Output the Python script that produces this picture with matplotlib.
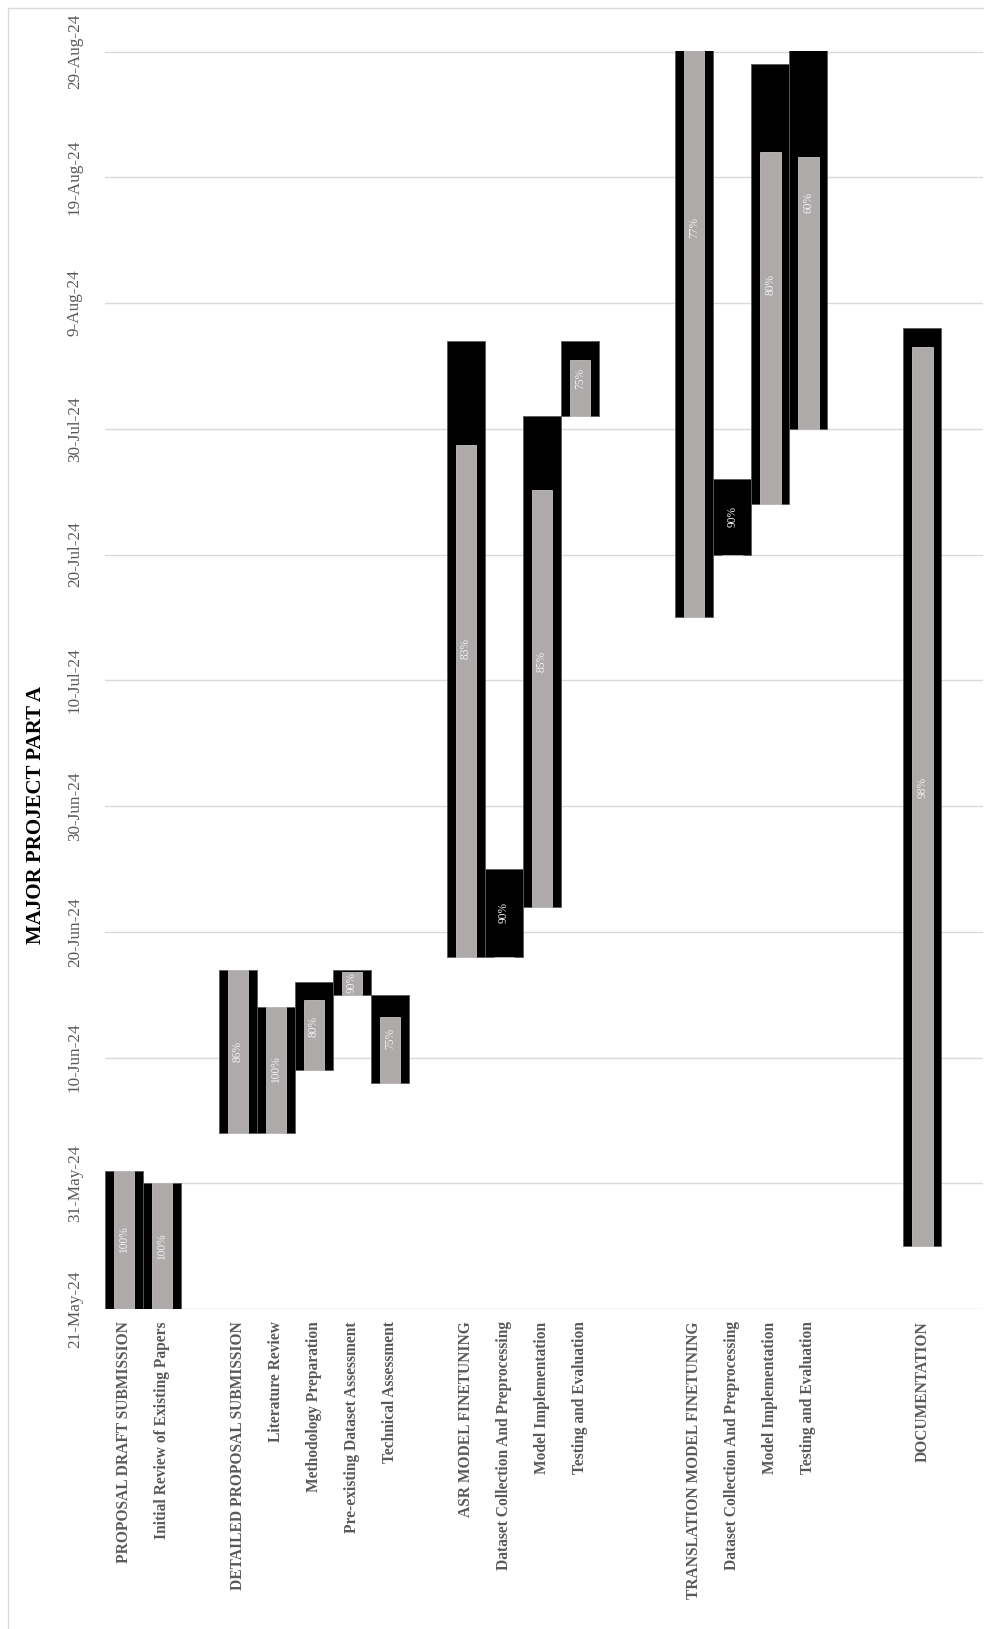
import matplotlib
matplotlib.use("Agg")
import matplotlib.pyplot as plt
import matplotlib.dates as mdates
from matplotlib.patches import Rectangle
import pandas as pd
import numpy as np

plt.rcParams["font.family"] = ["Liberation Serif", "DejaVu Serif"]

# One slot per row of the schedule; empty strings are spacer rows between phases
categories = [
    "PROPOSAL DRAFT SUBMISSION", "Initial Review of Existing Papers", "",
    "DETAILED PROPOSAL SUBMISSION", "Literature Review", "Methodology Preparation",
    "Pre-existing Dataset Assessment", "Technical Assessment", "",
    "ASR MODEL FINETUNING", "Dataset Collection And Preprocessing", "Model Implementation",
    "Testing and Evaluation", "", "",
    "TRANSLATION MODEL FINETUNING", "Dataset Collection And Preprocessing", "Model Implementation",
    "Testing and Evaluation", "", "",
    "DOCUMENTATION", "",
]
start_dates = [
    "2024-05-21", "2024-05-21", None,
    "2024-06-04", "2024-06-04", "2024-06-09", "2024-06-15", "2024-06-08", None,
    "2024-06-18", "2024-06-18", "2024-06-22", "2024-07-31", None, None,
    "2024-07-15", "2024-07-20", "2024-07-24", "2024-07-30", None, None,
    "2024-05-26", None,
]
end_dates = [
    "2024-06-01", "2024-05-31", None,
    "2024-06-17", "2024-06-14", "2024-06-16", "2024-06-17", "2024-06-15", None,
    "2024-08-06", "2024-06-25", "2024-07-31", "2024-08-06", None, None,
    "2024-09-15", "2024-07-26", "2024-08-28", "2024-09-04", None, None,
    "2024-08-07", None,
]
percent_complete = [
    100, 100, None,
    86, 100, 80, 90, 75, None,
    83, 90, 85, 75, None, None,
    77, 90, 80, 60, None, None,
    98, None,
]
# Days of work shaded as done, counted from each task's start
done_days = [
    11, 10, None,
    13, 10, 5.6, 1.8, 5.25, None,
    40.7, 0, 33.15, 4.5, None, None,
    47.7, 0, 28, 21.6, None, None,
    71.5, None,
]
axis_start = "2024-05-21"
axis_end = "2024-08-29"
tick_dates = pd.date_range(axis_start, axis_end, freq="10D")
title = "MAJOR PROJECT PART A"

W, H = 984, 1629
fig = plt.figure(figsize=(W / 100, H / 100), dpi=100)
ax = fig.add_axes([105 / W, (H - 1309) / H, (983 - 105) / W, (1309 - 51) / H])

idx = [i for i, s in enumerate(start_dates) if s is not None]
starts = np.array([mdates.date2num(pd.Timestamp(start_dates[i])) for i in idx])
ends = np.array([mdates.date2num(pd.Timestamp(end_dates[i])) for i in idx])
durs = ends - starts
done = np.array([done_days[i] for i in idx], dtype=float)
xs = np.array(idx, dtype=float)

ax.bar(xs, durs, bottom=starts, width=1.0, color="black",
       edgecolor="#5a5a5a", linewidth=0.6, zorder=2)
ax.bar(xs, done, bottom=starts, width=0.545, color="#AEAAAA",
       edgecolor="#c4c1c1", linewidth=0.6, zorder=3)

for x, s, d, i in zip(xs, starts, durs, idx):
    ax.text(x, s + d / 2, f"{percent_complete[i]}%", rotation=90,
            ha="center", va="center", fontsize=8.3, color="#F0F0F0",
            zorder=4, clip_on=True)

tick_nums = [mdates.date2num(t) for t in tick_dates]
ax.set_yticks(tick_nums)
ax.set_yticklabels([f"{t.day}-{t.strftime('%b')}-{t.strftime('%y')}" for t in tick_dates],
                   rotation=90, va="center", ha="right", fontsize=12.3, color="#595959")
ax.set_ylim(mdates.date2num(pd.Timestamp(axis_start)),
            mdates.date2num(pd.Timestamp(axis_end)) + 0.05)

ax.set_xticks(range(len(categories)))
ax.set_xticklabels(categories, rotation=90, ha="center", va="top",
                   fontsize=11.2, fontweight="bold", color="#595959")
ax.set_xlim(-0.5, 22.6)

ax.tick_params(axis="y", length=0, pad=16)
ax.tick_params(axis="x", length=0, pad=9)
ax.yaxis.grid(True, color="#D9D9D9", linewidth=1.0, zorder=0)
ax.set_axisbelow(True)
for sp in ax.spines.values():
    sp.set_visible(False)

fig.text(36 / W, 0.5, title, rotation=90, ha="center", va="center",
         fontsize=15, fontweight="bold", color="black")

fig.add_artist(Rectangle((7.5 / W, -0.5), 2.0, (H - 7.5) / H + 0.5,
                         transform=fig.transFigure, fill=False,
                         edgecolor="#D9D9D9", linewidth=1.0))

fig.savefig("out.png", dpi=100, facecolor="white")
